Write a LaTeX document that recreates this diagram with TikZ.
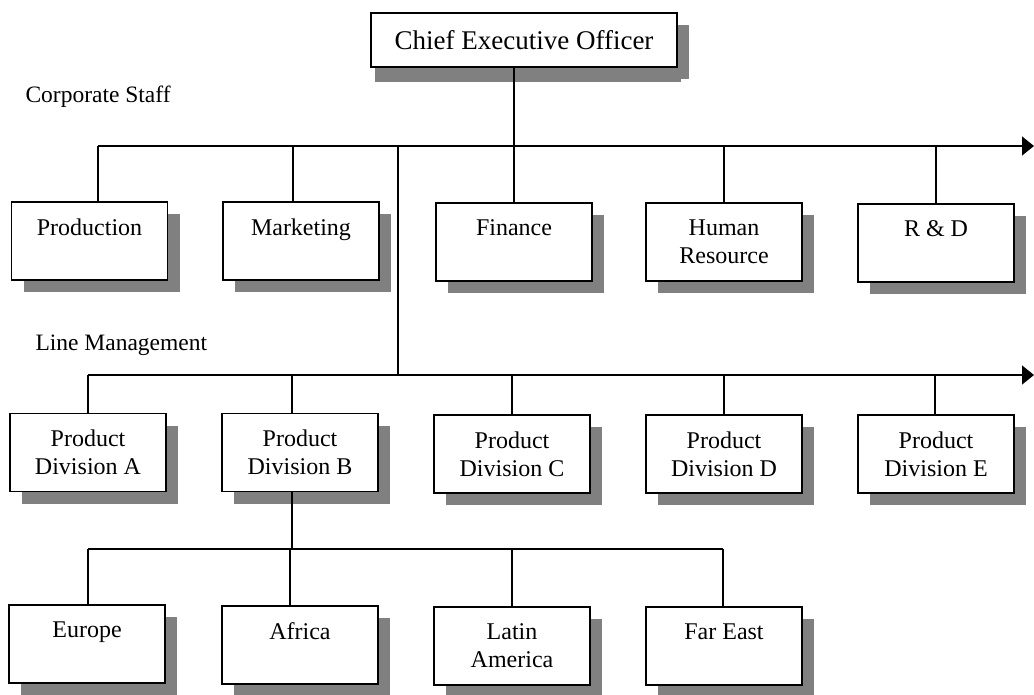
\documentclass[tikz,border=0pt]{standalone}
\usepackage{fontspec}
\setmainfont{Liberation Serif}
\usetikzlibrary{arrows.meta,shadows,calc}

\begin{document}
\begin{tikzpicture}[x=1pt,y=-1pt,
  unit/.style={draw=black, line width=1.3pt, fill=white, align=center,
    minimum width=156pt, minimum height=78pt, inner sep=0pt,
    font=\fontsize{24}{28}\selectfont,
    drop shadow={shadow xshift=12pt, shadow yshift=-12pt, fill=black!50, opacity=1}},
  topunit/.style={unit, minimum width=306pt, minimum height=54pt,
    font=\fontsize{27}{30}\selectfont,
    drop shadow={shadow xshift=4pt, shadow yshift=-15pt, fill=black!50, opacity=1}},
  link/.style={line width=1.4pt},
  bus/.style={line width=1.4pt, -{Triangle[length=12pt,width=19pt]}},
  caption/.style={anchor=base west, font=\fontsize{23.5}{28}\selectfont}
]
\useasboundingbox (0,0) rectangle (1034,694);

% top of the hierarchy
\node[topunit] (ceo) at (524,40) {Chief Executive Officer};

% corporate staff row
\node[unit] (prod) at (89.5,241) {Production\\\mbox{}};
\node[unit] (mkt)  at (301,241)  {Marketing\\\mbox{}};
\node[unit] (fin)  at (514,242) {Finance\\\mbox{}};
\node[unit] (hr)   at (724,242) {Human\\Resource};
\node[unit] (rd)   at (936,243)  {R \& D\\\mbox{}};

% line management row
\node[unit] (pa) at (88,452.5)  {Product\\Division A};
\node[unit] (pb) at (300,452.5) {Product\\Division B};
\node[unit] (pc) at (512,454) {Product\\Division C};
\node[unit] (pd) at (724,454) {Product\\Division D};
\node[unit] (pe) at (936,454)   {Product\\Division E};

% regional units of division B
\node[unit] (eu) at (87,644)  {Europe\\\mbox{}};
\node[unit] (af) at (300,645) {Africa\\\mbox{}};
\node[unit] (la) at (512,646) {Latin\\America};
\node[unit] (fe) at (724,646) {Far East\\\mbox{}};

% captions
\node[caption] (cs) at (22,102) {Corporate Staff};
\node[caption] (lm) at (32,350) {Line Management};

% bus lines
\coordinate (busA) at (98,146);
\coordinate (busAend) at (1034,146);
\coordinate (split) at (398,146);
\coordinate (busB) at (88,375);
\coordinate (busBend) at (1034,375);
\coordinate (busBjoin) at (398,375);
\coordinate (busC) at (88,549);
\coordinate (busCend) at (723,549);

% attachment points that sit off the box centres
\coordinate (ceoOut) at ($(ceo.south)+(-10,0)$);
\coordinate (mktIn)  at ($(mkt.north)+(-8,0)$);
\coordinate (pbIn)   at ($(pb.north)+(-8,0)$);
\coordinate (pbOut)  at ($(pb.south)+(-8,0)$);
\coordinate (peIn)   at ($(pe.north)+(-1,0)$);
\coordinate (afIn)   at ($(af.north)+(-10,0)$);

\draw[bus] (busA) -- (busAend);
\draw[bus] (busB) -- (busBend);
\draw[link] (busC) -- (busCend);
\draw[link] (split) -- (busBjoin);

% CEO line runs straight down to Finance
\draw[link] (ceoOut) -- (ceoOut |- fin.north);

% drops to the corporate staff
\draw[link] (busA) -- (busA |- prod.north);
\draw[link] (mktIn |- busA) -- (mktIn);
\draw[link] (hr.north |- busA) -- (hr.north);
\draw[link] (rd.north |- busA) -- (rd.north);

% drops to the product divisions
\draw[link] (busB) -- (busB |- pa.north);
\draw[link] (pbIn |- busB) -- (pbIn);
\draw[link] (pc.north |- busB) -- (pc.north);
\draw[link] (pd.north |- busB) -- (pd.north);
\draw[link] (peIn |- busB) -- (peIn);

% division B to its regions
\draw[link] (pbOut) -- (pbOut |- busC);
\draw[link] (busC) -- (busC |- eu.north);
\draw[link] (afIn |- busC) -- (afIn);
\draw[link] (la.north |- busC) -- (la.north);
\draw[link] (busCend) -- (busCend |- fe.north);
\end{tikzpicture}
\end{document}
